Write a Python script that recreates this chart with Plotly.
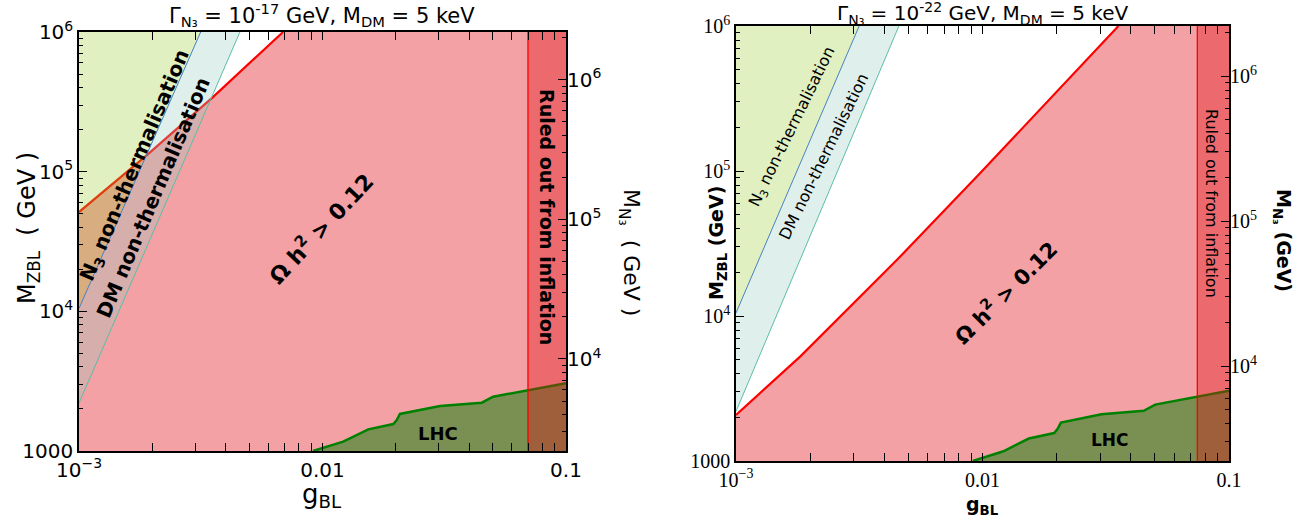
import math
import plotly.graph_objects as go

W, H = 1309, 525

# ---------------- data ----------------
G_RANGE = [1e-3, 0.1]          # g_BL axis limits
M_RANGE = [1e3, 1e6]           # M_ZBL axis limits
MN3_RANGE_L = [2193, 2.193e6]  # M_N3 axis limits (left panel)
MN3_RANGE_R = [2213, 2.213e6]  # M_N3 axis limits (right panel)

# N3 non-thermalisation boundary
n3_g = [1e-3, 3.16e-3]
n3_M = [1.05e4, 1e6]
# DM non-thermalisation boundary
dm_g = [1e-3, 4.58e-3]
dm_M = [2.2e3, 1e6]

# relic boundary, Gamma = 1e-17 GeV
relic_g_L = [1e-3, 0.0019, 0.003548, 0.006887]
relic_M_L = [5.14e4, 1.315e5, 3.42e5, 1e6]
# relic boundary, Gamma = 1e-22 GeV
relic_g_R = [1e-3, 0.00182, 0.00449, 0.00977, 0.0356]
relic_M_R = [2075, 5250, 2.43e4, 9.64e4, 1e6]

# LHC bound
lhc_g = [0.00914, 0.01216, 0.01542, 0.01954, 0.02018, 0.0208, 0.0304, 0.0451, 0.0502, 0.0698, 0.1]
lhc_M = [1000, 1167, 1429, 1560, 1667, 1841, 2099, 2218, 2449, 2735, 3055]

# inflation bound
infl_g_L = 0.0698
infl_g_R = 0.0744

PINK = "rgb(243,161,164)"
GREEN_FILL = "rgba(154,205,50,0.3)"
TEAL_FILL = "rgba(148,205,192,0.3)"
LHC_FILL = "rgba(0,128,0,0.5)"
INFL_FILL = "rgba(224,12,19,0.37)"

fig = go.Figure()


def add_panel(xa, ya, relic_g, relic_M, infl_g):
    g0, g1 = G_RANGE
    m0, m1 = M_RANGE
    kw = dict(xaxis=xa, yaxis=ya, showlegend=False, hoverinfo="skip")
    # relic region (below red line)
    fig.add_trace(go.Scatter(x=relic_g + [g1, g1, g0], y=relic_M + [m1, m0, m0],
                             fill="toself", fillcolor=PINK, mode="none", **kw))
    fig.add_trace(go.Scatter(x=relic_g, y=relic_M, mode="lines",
                             line=dict(color="red", width=2.2), **kw))
    # LHC
    fig.add_trace(go.Scatter(x=lhc_g + [g1, lhc_g[0]], y=lhc_M + [m0, m0],
                             fill="toself", fillcolor=LHC_FILL, mode="none", **kw))
    fig.add_trace(go.Scatter(x=lhc_g, y=lhc_M, mode="lines",
                             line=dict(color="green", width=2.5), **kw))
    # N3 non-thermalisation
    fig.add_trace(go.Scatter(x=n3_g + [g0], y=n3_M + [m1],
                             fill="toself", fillcolor=GREEN_FILL, mode="none", **kw))
    # DM non-thermalisation
    fig.add_trace(go.Scatter(x=dm_g + n3_g[::-1], y=dm_M + n3_M[::-1],
                             fill="toself", fillcolor=TEAL_FILL, mode="none", **kw))
    fig.add_trace(go.Scatter(x=n3_g, y=n3_M, mode="lines",
                             line=dict(color="rgb(70,130,190)", width=1), **kw))
    fig.add_trace(go.Scatter(x=dm_g, y=dm_M, mode="lines",
                             line=dict(color="rgb(90,190,165)", width=1), **kw))
    # inflation
    fig.add_trace(go.Scatter(x=[infl_g, g1, g1, infl_g], y=[m0, m0, m1, m1],
                             fill="toself", fillcolor=INFL_FILL, mode="none", **kw))
    fig.add_trace(go.Scatter(x=[infl_g, infl_g], y=[m0, m1], mode="lines",
                             line=dict(color="red", width=1.3), **kw))


add_panel("x", "y", relic_g_L, relic_M_L, infl_g_L)
add_panel("x2", "y2", relic_g_R, relic_M_R, infl_g_R)

# invisible traces so the secondary (M_N3) axes get drawn
fig.add_trace(go.Scatter(x=G_RANGE, y=MN3_RANGE_L, xaxis="x", yaxis="y3", mode="none",
                         showlegend=False, hoverinfo="skip"))
fig.add_trace(go.Scatter(x=G_RANGE, y=MN3_RANGE_R, xaxis="x2", yaxis="y4", mode="none",
                         showlegend=False, hoverinfo="skip"))


def lg(v):
    return [math.log10(a) for a in v]


x_minor = [k * 10.0 ** e for e in (-3, -2) for k in range(2, 10)]
y_minor = [k * 10.0 ** e for e in (3, 4, 5) for k in range(2, 10)]
n3_minor = [k * 10.0 ** e for e in (3, 4, 5, 6) for k in range(2, 10)]


def xaxis(domain, font, anchor):
    return dict(type="log", range=lg(G_RANGE), domain=domain, anchor=anchor,
                tickvals=[1e-3, 1e-2, 1e-1],
                ticktext=["10<sup>−3</sup>", "0.01", "0.1"],
                ticks="inside", ticklen=8, tickwidth=1, tickcolor="black",
                minor=dict(tickvals=x_minor, ticks="inside", ticklen=4, tickcolor="black"),
                showline=True, linecolor="black", linewidth=1.5, mirror="allticks",
                showgrid=False, zeroline=False, tickfont=font, automargin=False)


def yaxis(domain, font, anchor):
    return dict(type="log", range=lg(M_RANGE), domain=domain, anchor=anchor,
                tickvals=[1e3, 1e4, 1e5, 1e6],
                ticktext=["1000", "10<sup>4</sup>", "10<sup>5</sup>", "10<sup>6</sup>"],
                ticks="inside", ticklen=8, tickwidth=1, tickcolor="black",
                minor=dict(tickvals=y_minor, ticks="inside", ticklen=4, tickcolor="black"),
                showline=True, linecolor="black", linewidth=1.5, mirror=True,
                showgrid=False, zeroline=False, tickfont=font, automargin=False)


def n3axis(rng, overlay, anchor, font):
    return dict(type="log", range=lg(rng), overlaying=overlay, anchor=anchor, side="right",
                tickvals=[1e4, 1e5, 1e6],
                ticktext=["10<sup>4</sup>", "10<sup>5</sup>", "10<sup>6</sup>"],
                ticks="inside", ticklen=8, tickwidth=1, tickcolor="black",
                minor=dict(tickvals=n3_minor, ticks="inside", ticklen=4, tickcolor="black"),
                showline=False, showgrid=False, zeroline=False, tickfont=font,
                automargin=False)


sans = dict(family="DejaVu Sans", size=20, color="black")
serif = dict(family="Liberation Serif", size=20, color="black")

xl = [79 / W, 566 / W]
yl = [(H - 451) / H, (H - 32) / H]
xr = [736 / W, 1229 / W]
yr = [(H - 461) / H, (H - 26) / H]

fig.update_layout(
    width=W, height=H, margin=dict(l=0, r=0, t=0, b=0, autoexpand=False),
    paper_bgcolor="white", plot_bgcolor="white",
    xaxis=xaxis(xl, sans, "y"),
    yaxis=yaxis(yl, sans, "x"),
    xaxis2=xaxis(xr, serif, "y2"),
    yaxis2=yaxis(yr, serif, "x2"),
    yaxis3=n3axis(MN3_RANGE_L, "y", "x", sans),
    yaxis4=n3axis(MN3_RANGE_R, "y2", "x2", serif),
)


def ann(px, py, text, size, angle=0, family="DejaVu Sans"):
    fig.add_annotation(x=px / W, y=1 - py / H, xref="paper", yref="paper",
                       text=text, showarrow=False, textangle=angle,
                       xanchor="center", yanchor="middle",
                       font=dict(family=family, size=size, color="black"))


# left panel texts
ann(322, 15, "Γ<sub>N₃</sub> = 10<sup>-17</sup> GeV, M<sub>DM</sub> = 5 keV", 21)
ann(28, 228, "M<sub>ZBL</sub>  ( GeV )", 24, -90)
ann(630, 252, "M<sub>N₃</sub>  ( GeV )", 22, 90)
ann(322, 495, "g<sub>BL</sub>", 26)
ann(135, 166, "<b>N<sub>3</sub> non-thermalisation</b>", 20, -67)
ann(153, 198, "<b>DM non-thermalisation</b>", 20, -67)
ann(320, 228, "<b>Ω h<sup>2</sup> &gt; 0.12</b>", 22, -47)
ann(547, 217, "<b>Ruled out from inflation</b>", 19, 90)
ann(438, 433, "<b>LHC</b>", 18)

# right panel texts
ann(982, 13, "Γ<sub>N₃</sub> = 10<sup>-22</sup> GeV, M<sub>DM</sub> = 5 keV", 20)
ann(717, 243, "<b>M<sub>ZBL</sub> (GeV)</b>", 19, -90)
ann(1282, 240, "<b>M<sub>N₃</sub> (GeV)</b>", 19, 90)
ann(982, 505, "<b>g<sub>BL</sub></b>", 19)
ann(793, 127, "N<sub>3</sub> non-thermalisation", 16, -64)
ann(824, 157, "DM non-thermalisation", 16, -64)
ann(1005, 292, "<b>Ω h<sup>2</sup> &gt; 0.12</b>", 21, -45)
ann(1212, 203, "Ruled out from inflation", 16, 90)
ann(1110, 440, "<b>LHC</b>", 17)

fig.write_html("out.html")
